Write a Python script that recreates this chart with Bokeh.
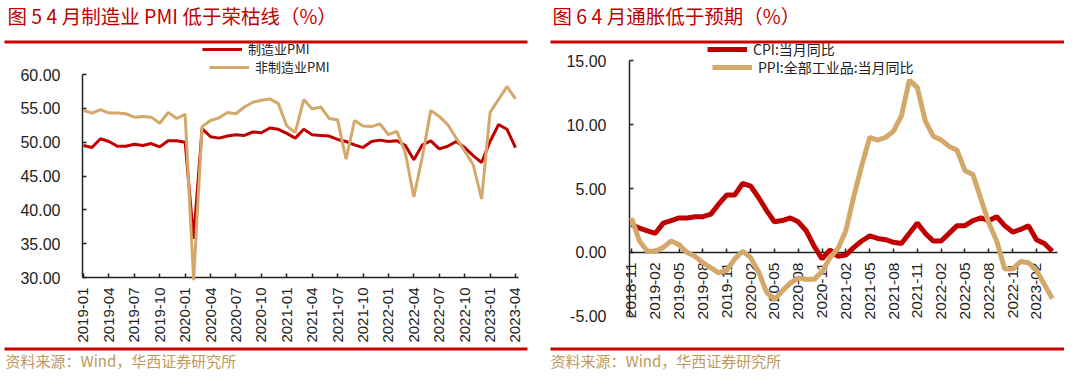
import math
from bokeh.plotting import figure
from bokeh.models import (Legend, LegendItem, Label, BoxAnnotation, FixedTicker,
                          NumeralTickFormatter, ColumnDataSource)
from bokeh.layouts import row
from bokeh.embed import file_html
from bokeh.resources import INLINE

# ---------------- data ----------------
pmi_months = [f"{y}-{m:02d}" for y in range(2019, 2024) for m in range(1, 13)][:52]
pmi_mfg = [49.5, 49.2, 50.5, 50.1, 49.4, 49.4, 49.7, 49.5, 49.8, 49.3, 50.2, 50.2,
           50.0, 35.7, 52.0, 50.8, 50.6, 50.9, 51.1, 51.0, 51.5, 51.4, 52.1, 51.9,
           51.3, 50.6, 51.9, 51.1, 51.0, 50.9, 50.4, 50.1, 49.6, 49.2, 50.1, 50.3,
           50.1, 50.2, 49.5, 47.4, 49.6, 50.2, 49.0, 49.4, 50.1, 49.2, 48.0, 47.0,
           50.1, 52.6, 51.9, 49.2]
pmi_nonmfg = [54.7, 54.3, 54.8, 54.3, 54.3, 54.2, 53.7, 53.8, 53.7, 52.8, 54.4, 53.5,
              54.1, 29.6, 52.3, 53.2, 53.6, 54.4, 54.2, 55.2, 55.9, 56.2, 56.4, 55.7,
              52.4, 51.4, 56.3, 54.9, 55.2, 53.5, 53.3, 47.5, 53.2, 52.4, 52.3, 52.7,
              51.1, 51.6, 48.4, 41.9, 47.8, 54.7, 53.8, 52.6, 50.6, 48.7, 46.7, 41.6,
              54.4, 56.3, 58.2, 56.4]

cpi_months = ["2018-11", "2018-12"] + [f"{y}-{m:02d}" for y in range(2019, 2024) for m in range(1, 13)][:52]
cpi = [2.2, 1.9,
       1.7, 1.5, 2.3, 2.5, 2.7, 2.7, 2.8, 2.8, 3.0, 3.8, 4.5, 4.5,
       5.4, 5.2, 4.3, 3.3, 2.4, 2.5, 2.7, 2.4, 1.7, 0.5, -0.5, 0.2,
       -0.3, -0.2, 0.4, 0.9, 1.3, 1.1, 1.0, 0.8, 0.7, 1.5, 2.3, 1.5,
       0.9, 0.9, 1.5, 2.1, 2.1, 2.5, 2.7, 2.5, 2.8, 2.1, 1.6, 1.8,
       2.1, 1.0, 0.7, 0.1]
ppi = [2.7, 0.9,
       0.1, 0.1, 0.4, 0.9, 0.6, 0.0, -0.3, -0.8, -1.2, -1.6, -1.4, -0.5,
       0.1, -0.4, -1.5, -3.1, -3.7, -3.0, -2.4, -2.0, -2.1, -2.1, -1.5, -0.4,
       0.3, 1.7, 4.4, 6.8, 9.0, 8.8, 9.0, 9.5, 10.7, 13.5, 12.9, 10.3,
       9.1, 8.8, 8.3, 8.0, 6.4, 6.1, 4.2, 2.3, 0.9, -1.3, -1.3, -0.7,
       -0.8, -1.4, -2.5, -3.6]

pmi_yticks = [30, 35, 40, 45, 50, 55, 60]
cpi_yticks = [-5, 0, 5, 10, 15]

title1 = "图 5  4 月制造业 PMI 低于荣枯线（%）"
title2 = "图 6  4 月通胀低于预期（%）"
source_text = "资料来源：Wind，华西证券研究所"

RED = "#C00000"
TAN = "#D3A86A"
SRC = "#C0985A"
AX = "#222222"
CJK = "Noto Sans CJK SC"
LAT = "Liberation Sans"
W, H = 532, 373


def style_axes(p, ysize, xsize, ystand, xstand, tick_in):
    p.xgrid.visible = False
    p.ygrid.visible = False
    p.outline_line_color = None
    for ax in (p.xaxis, p.yaxis):
        ax.axis_line_color = AX
        ax.axis_line_width = 1.5
        ax.major_tick_line_color = AX
        ax.major_tick_line_width = 1.5
        ax.major_tick_in = tick_in
        ax.major_tick_out = 0
        ax.minor_tick_line_color = None
        ax.major_label_text_color = AX
        ax.major_label_text_font = LAT
    p.yaxis.major_label_text_font_size = ysize
    p.xaxis.major_label_text_font_size = xsize
    p.yaxis.major_label_standoff = ystand
    p.xaxis.major_label_standoff = xstand
    p.xaxis.major_label_orientation = math.pi / 2
    p.yaxis.formatter = NumeralTickFormatter(format="0.00")


def deco(p, tx, rl, rr, title):
    # screen units: x from frame left, y from frame bottom (frame == whole canvas)
    p.add_layout(Label(x=tx, y=H - 15, x_units="screen", y_units="screen", text=title,
                       text_font=CJK, text_font_size="19.5px", text_color=RED,
                       text_baseline="middle", text_align="left"))
    for top in (H - 40, H - 347):
        p.add_layout(BoxAnnotation(left=rl, right=rr, top=top, bottom=top - 3,
                                   left_units="screen", right_units="screen",
                                   top_units="screen", bottom_units="screen",
                                   fill_color="#CC0000", fill_alpha=1, line_color=None,
                                   level="overlay"))
    p.add_layout(Label(x=tx - 2, y=H - 360, x_units="screen", y_units="screen", text=source_text,
                       text_font=CJK, text_font_size="15px", text_color=SRC,
                       text_baseline="middle", text_align="left"))


def add_legend(p, r, label, x, y, size):
    lg = Legend(items=[LegendItem(label=label, renderers=[r])], location=(x, y),
                orientation="vertical", padding=0, margin=0, spacing=0,
                glyph_width=40, glyph_height=14, label_height=14, label_standoff=6,
                label_text_font=CJK, label_text_font_size=size, label_text_color=AX,
                border_line_color=None, background_fill_alpha=0)
    p.add_layout(lg, "center")


# ---------------- left chart ----------------
src1 = ColumnDataSource(dict(x=list(range(len(pmi_months))), mfg=pmi_mfg, non=pmi_nonmfg))
p1 = figure(width=W, height=H, x_range=(-9.799, 53.01), y_range=(15.813, 70.936),
            output_backend="svg", toolbar_location=None,
            min_border_left=0, min_border_right=0, min_border_top=0, min_border_bottom=0)
r1 = p1.line("x", "mfg", source=src1, line_color=RED, line_width=3)
r2 = p1.line("x", "non", source=src1, line_color=TAN, line_width=3)
r1.level = "annotation"
r2.level = "annotation"
style_axes(p1, "16px", "15px", 22, 10, 4)
p1.yaxis.ticker = FixedTicker(ticks=pmi_yticks)
p1.yaxis.bounds = (30, 60)
p1.yaxis.fixed_location = -0.12
xt1 = list(range(0, len(pmi_months), 3))
p1.xaxis.ticker = FixedTicker(ticks=xt1)
p1.xaxis.major_label_overrides = {i: pmi_months[i] for i in xt1}
p1.xaxis.bounds = (-0.12, 51.35)
p1.xaxis.fixed_location = 30
add_legend(p1, r1, "制造业PMI", 202, 315, "13px")
add_legend(p1, r2, "非制造业PMI", 209, 297, "13px")
deco(p1, 7, 4, 527, title1)

# ---------------- right chart ----------------
src2 = ColumnDataSource(dict(x=list(range(len(cpi_months))), cpi=cpi, ppi=ppi))
p2 = figure(width=W, height=H, x_range=(-12.469, 54.534), y_range=(-9.468, 19.718),
            output_backend="svg", toolbar_location=None,
            min_border_left=0, min_border_right=0, min_border_top=0, min_border_bottom=0)
r3 = p2.line("x", "cpi", source=src2, line_color=RED, line_width=5)
r4 = p2.line("x", "ppi", source=src2, line_color=TAN, line_width=5)
r3.level = "annotation"
r4.level = "annotation"
style_axes(p2, "16px", "15.5px", 23, 10, 4)
p2.yaxis.ticker = FixedTicker(ticks=cpi_yticks)
p2.yaxis.bounds = (-5, 15)
p2.yaxis.fixed_location = -0.25
p2.xaxis.fixed_location = 0
xt2 = list(range(0, len(cpi_months), 3))
p2.xaxis.ticker = FixedTicker(ticks=xt2)
p2.xaxis.major_label_overrides = {i: cpi_months[i] for i in xt2}
p2.xaxis.bounds = (-0.25, 53.63)
add_legend(p2, r3, "CPI:当月同比", 175, 314, "14px")
add_legend(p2, r4, "PPI:全部工业品:当月同比", 180, 296, "14px")
deco(p2, 20, 18, 532, title2)

layout = row(p1, p2)
open("out.html", "w").write(file_html(layout, INLINE))
